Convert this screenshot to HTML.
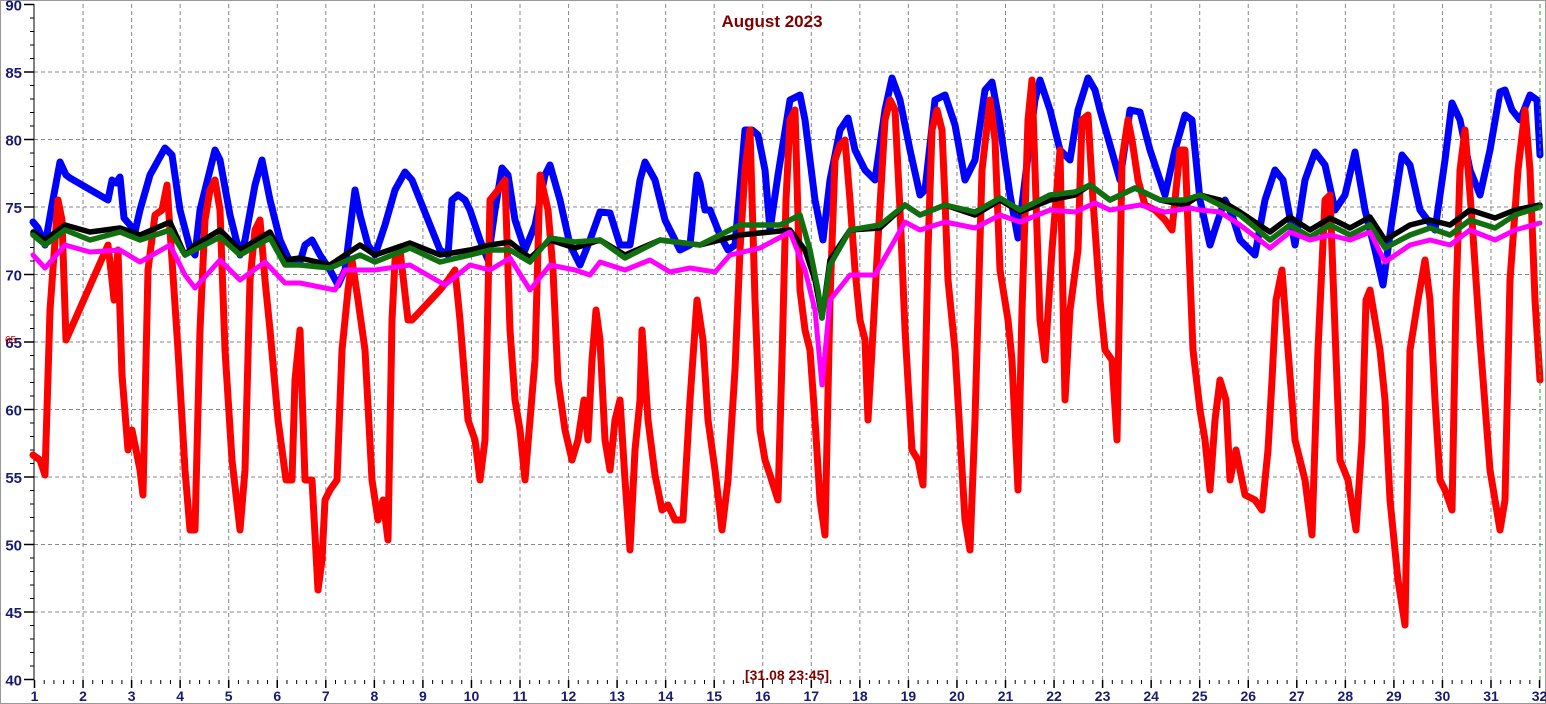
<!DOCTYPE html>
<html><head><meta charset="utf-8"><style>
html,body{margin:0;padding:0;background:#fff;}
svg{display:block;font-family:"Liberation Sans",sans-serif;}
</style></head><body>
<svg id="s" width="1546" height="704" xmlns="http://www.w3.org/2000/svg">
<rect x="0.5" y="0.5" width="1545" height="703" fill="#fff" stroke="#999"/>
<g id="grid"></g>
<g id="series" fill="none" stroke-linejoin="round" stroke-linecap="round"></g>
<text x="772" y="27" text-anchor="middle" font-size="17" font-weight="bold" fill="#800000">August 2023</text>
<text x="787" y="680" text-anchor="middle" font-size="14" font-weight="bold" fill="#800000">[31.08 23:45]</text>
<text x="5" y="343" font-size="10" fill="#c00">65</text>
<line x1="1540" y1="4" x2="1540" y2="680" stroke="#2a2" stroke-dasharray="4,3"/>
</svg>
<script>
const NS="http://www.w3.org/2000/svg";
const g=document.getElementById('grid');
function el(t,a,p){const e=document.createElementNS(NS,t);for(const k in a)e.setAttribute(k,a[k]);(p||g).appendChild(e);return e;}
const X=d=>34.5+(d-1)*48.55, Y=v=>4.5+(90-v)*13.5;
for(let v=40;v<=90;v+=5){const y=Y(v);
 if(v>40&&v<90) el('line',{x1:34,y1:y,x2:1546,y2:y,stroke:'#888','stroke-dasharray':'4,3'});
 el('line',{x1:24,y1:y,x2:34,y2:y,stroke:'#000','stroke-width':1.5});
 const t=el('text',{x:22,y:y+6,'text-anchor':'end','font-size':15,'font-weight':'bold',fill:'#1a1a6e'});t.textContent=v;}
for(let v=41;v<90;v++){if(v%5)el('line',{x1:30,y1:Y(v),x2:34,y2:Y(v),stroke:'#000'});}
for(let d=1;d<=32;d++){const x=X(d);
 if(d>1&&d<32) el('line',{x1:x,y1:4,x2:x,y2:680,stroke:'#888','stroke-dasharray':'4,3'});
 el('line',{x1:x,y1:680,x2:x,y2:688,stroke:'#000','stroke-width':1.5});
 const t=el('text',{x:x,y:701,'text-anchor':'middle','font-size':14,'font-weight':'bold',fill:'#1a1a6e'});t.textContent=d;
 if(d<32)for(let k=1;k<5;k++)el('line',{x1:x+k*48.55/5,y1:680,x2:x+k*48.55/5,y2:684,stroke:'#000'});}
el('line',{x1:34,y1:4,x2:34,y2:680,stroke:'#000'});
const S=document.getElementById('series');
function line(pts,col,w){el('polyline',{points:pts.map(p=>p.join(',')).join(' '),stroke:col,'stroke-width':w},S);}
const blue=[[33,222],[38,228],[45,245],[52,205],[60,162],[66,175],[70,178],[108,200],[112,180],[116,183],[120,177],[124,218],[130,225],[135,232],[140,210],[150,175],[165,148],[172,155],[180,210],[190,248],[195,255],[200,210],[210,170],[215,150],[220,160],[230,215],[240,255],[245,240],[255,185],[262,160],[270,200],[280,240],[290,262],[300,262],[305,245],[312,240],[320,255],[330,270],[338,285],[345,270],[350,230],[355,190],[360,215],[368,245],[375,255],[385,225],[395,190],[405,172],[412,180],[420,200],[430,225],[440,250],[448,255],[452,200],[458,195],[465,200],[470,210],[480,240],[488,260],[495,210],[502,168],[508,175],[515,220],[525,250],[535,225],[545,175],[550,165],[560,200],[570,245],[580,265],[590,240],[600,212],[610,213],[620,245],[630,245],[640,180],[645,162],[655,180],[665,220],[680,250],[690,245],[697,175],[700,183],[705,210],[710,210],[720,235],[728,250],[735,245],[745,130],[752,130],[758,135],[765,170],[770,230],[778,175],[790,100],[800,95],[805,120],[815,200],[823,240],[830,180],[840,130],[848,118],[855,150],[865,170],[875,180],[885,110],[892,78],[900,100],[910,150],[920,195],[925,190],[935,100],[945,95],[955,125],[965,180],[975,160],[985,90],[992,82],[1000,125],[1010,195],[1018,238],[1025,180],[1035,100],[1040,80],[1050,110],[1060,150],[1070,160],[1078,110],[1088,78],[1095,90],[1100,110],[1110,145],[1120,180],[1130,110],[1140,112],[1150,150],[1165,195],[1175,150],[1185,115],[1192,120],[1200,200],[1210,245],[1218,220],[1225,200],[1232,215],[1240,240],[1255,255],[1265,200],[1275,170],[1283,180],[1295,245],[1305,180],[1315,152],[1325,165],[1335,210],[1345,195],[1355,152],[1365,210],[1375,250],[1383,285],[1392,220],[1402,155],[1410,165],[1420,210],[1435,230],[1445,160],[1452,103],[1460,120],[1470,170],[1480,195],[1490,150],[1500,92],[1505,90],[1512,110],[1520,120],[1530,95],[1537,100],[1540,155]];
const red=[[33,455],[40,460],[45,475],[50,310],[58,200],[62,220],[66,340],[108,245],[112,280],[114,300],[118,250],[122,375],[128,450],[132,430],[140,470],[143,495],[148,270],[155,215],[162,210],[167,185],[170,230],[178,350],[185,470],[190,530],[195,530],[200,330],[205,220],[210,190],[215,180],[220,210],[225,350],[232,460],[240,530],[245,470],[250,280],[255,230],[260,220],[265,280],[270,330],[278,420],[286,480],[292,480],[295,380],[300,330],[305,480],[312,480],[318,590],[322,560],[325,500],[330,490],[337,480],[342,350],[348,290],[352,260],[358,300],[365,350],[372,480],[378,520],[383,500],[388,540],[392,320],[395,260],[400,250],[408,320],[412,320],[440,290],[448,280],[455,270],[460,320],[468,420],[475,440],[480,480],[485,440],[490,200],[498,190],[505,180],[510,330],[515,400],[520,430],[525,480],[530,420],[535,360],[540,175],[548,210],[553,270],[558,380],[565,430],[572,460],[578,440],[584,400],[588,440],[592,360],[596,310],[600,340],[605,440],[610,470],[615,420],[620,400],[625,480],[630,550],[635,450],[640,400],[642,330],[648,420],[655,475],[662,510],[668,505],[675,520],[683,520],[690,400],[697,300],[703,340],[708,420],[715,470],[722,530],[728,480],[735,370],[740,250],[745,170],[750,130],[755,300],[760,430],[765,460],[770,475],[778,500],[782,360],[786,200],[790,120],[795,110],[800,290],[805,330],[810,350],[815,420],[820,500],[825,535],[830,300],[835,160],[840,145],[845,140],[850,200],[855,270],[860,320],[865,340],[868,420],[872,350],[878,240],[885,120],[890,100],[895,110],[900,210],[905,330],[912,450],[918,460],[923,485],[928,250],[932,130],[937,110],[942,130],[945,200],[948,280],[955,350],[965,520],[970,550],[975,420],[982,170],[990,100],[995,140],[1000,270],[1008,320],[1012,360],[1018,490],[1022,310],[1028,120],[1032,80],[1036,200],[1040,320],[1045,360],[1052,250],[1060,150],[1065,400],[1070,310],[1078,250],[1082,120],[1088,115],[1093,200],[1100,300],[1105,350],[1112,360],[1117,440],[1122,160],[1128,120],[1132,140],[1138,180],[1145,205],[1155,210],[1165,220],[1172,230],[1180,150],[1185,150],[1193,350],[1200,410],[1205,440],[1210,490],[1215,420],[1220,380],[1226,400],[1230,480],[1236,450],[1240,470],[1245,495],[1255,500],[1262,510],[1268,450],[1272,380],[1276,300],[1282,270],[1288,350],[1295,440],[1305,480],[1312,535],[1318,350],[1325,200],[1330,195],[1335,330],[1340,460],[1348,480],[1356,530],[1362,440],[1366,300],[1370,290],[1375,320],[1380,350],[1385,400],[1390,500],[1398,580],[1405,625],[1410,350],[1418,300],[1425,260],[1430,300],[1435,400],[1440,480],[1445,490],[1452,510],[1456,300],[1460,170],[1465,130],[1472,220],[1480,340],[1490,470],[1500,530],[1505,500],[1510,280],[1518,170],[1525,110],[1530,170],[1535,300],[1540,380]];
const black=[[33,232],[45,240],[65,225],[90,232],[120,228],[140,235],[170,222],[185,255],[195,245],[220,230],[240,250],[270,232],[285,260],[300,258],[330,265],[360,245],[375,255],[410,243],[440,255],[470,250],[490,245],[510,242],[530,258],[550,240],[575,248],[600,240],[625,255],[660,240],[700,245],[740,235],[790,230],[805,250],[815,280],[822,318],[830,260],[850,230],[880,228],[905,205],[920,215],[945,205],[975,215],[1000,200],[1020,212],[1050,200],[1075,195],[1090,185],[1110,200],[1135,188],[1160,200],[1185,205],[1200,195],[1220,200],[1240,212],[1270,232],[1290,217],[1310,230],[1330,218],[1350,228],[1370,217],[1385,240],[1410,225],[1430,220],[1450,225],[1470,210],[1495,218],[1515,210],[1540,205]];
const green=[[33,235],[45,245],[65,230],[90,240],[120,232],[140,240],[170,230],[185,255],[220,237],[240,255],[270,238],[285,265],[300,265],[330,268],[360,255],[375,262],[410,248],[440,262],[470,255],[490,250],[510,250],[530,262],[550,238],[575,242],[600,240],[625,258],[660,240],[700,245],[740,225],[780,225],[800,215],[810,250],[818,290],[822,318],[830,265],[850,230],[880,225],[905,205],[920,215],[945,205],[975,212],[1000,198],[1020,210],[1050,195],[1075,192],[1090,185],[1110,200],[1135,188],[1160,200],[1185,200],[1200,195],[1220,205],[1240,215],[1270,240],[1290,225],[1310,237],[1330,225],[1350,235],[1370,225],[1385,248],[1410,235],[1430,228],[1450,235],[1470,220],[1495,228],[1515,215],[1540,207]];
const mag=[[33,255],[45,268],[65,245],[90,252],[120,250],[140,262],[170,245],[185,275],[195,288],[220,260],[240,280],[265,262],[285,283],[300,283],[335,290],[345,270],[375,270],[410,265],[445,285],[470,265],[490,270],[510,258],[530,290],[550,265],[575,270],[590,275],[600,262],[625,270],[650,260],[670,272],[690,268],[715,272],[730,255],[760,248],[790,232],[805,270],[815,310],[822,385],[830,300],[850,275],[875,275],[905,222],[920,230],[945,222],[975,228],[1000,215],[1020,222],[1050,210],[1075,212],[1095,203],[1110,210],[1140,205],[1165,212],[1190,208],[1200,210],[1220,212],[1240,225],[1270,248],[1290,232],[1310,240],[1330,235],[1350,240],[1370,232],[1385,262],[1410,245],[1430,240],[1450,245],[1470,230],[1495,240],[1515,230],[1540,223]];
line(blue,'#0000ff',7);
line(red,'#ff0000',7);
line(black,'#000000',5.5);
line(green,'#107010',5.5);
line(mag,'#ff00ff',5);
</script>
</body></html>
